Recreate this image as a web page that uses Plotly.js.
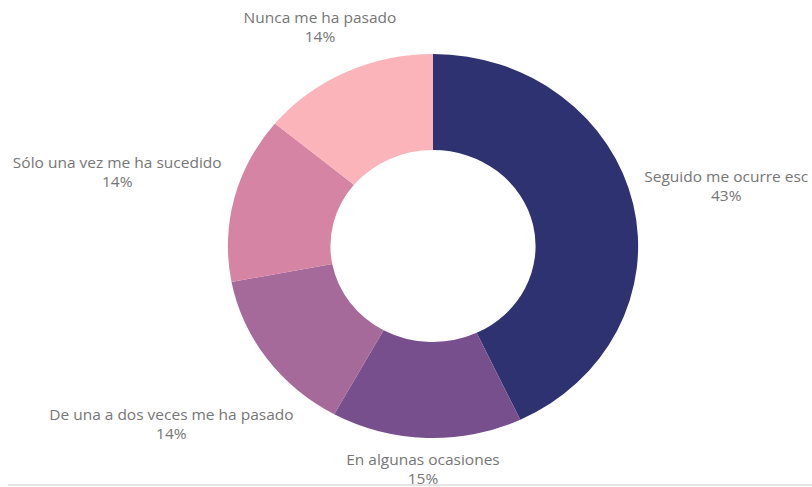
<!DOCTYPE html>
<html>
<head>
<meta charset="utf-8">
<script src="https://cdn.plot.ly/plotly-3.0.1.min.js"></script>
<style>
html,body{margin:0;padding:0;background:#fff;overflow:hidden;}
#wrap{width:812px;height:487px;overflow:hidden;position:relative;}
#chart{width:760px;height:487px;transform:scaleX(1.0684);transform-origin:0 0;}
</style>
</head>
<body>
<div id="wrap"><div id="chart"></div></div>
<script>
const categories = ["Seguido me ocurre esc", "En algunas ocasiones", "De una a dos veces me ha pasado", "Sólo una vez me ha sucedido", "Nunca me ha pasado"];
const values = [43, 15, 14, 14, 14];
const percentLabels = ["43%", "15%", "14%", "14%", "14%"];
const colors = ["#2e3270", "#774f8d", "#a5699a", "#d684a4", "#fbb4b9"];

// label placement in final screen px (center x, center y)
const labelPos = [[727, 186], [423, 469], [172, 424], [117, 172], [320, 27]];

const SX = 1.0684;
const W = 760, H = 487;
const annotations = categories.map((c, i) => ({
  xref: 'paper', yref: 'paper',
  x: (labelPos[i][0] / SX) / W, y: 1 - labelPos[i][1] / H,
  xanchor: 'center', yanchor: 'middle',
  text: c + '<br>' + percentLabels[i],
  showarrow: false, align: 'center',
  font: {family: 'Open Sans', size: 14.5, color: '#767676'}
}));

const cx = 433 / SX, cy = 246, r = 192;
const data = [{
  type: 'pie',
  labels: categories,
  values: values,
  hole: 0.5,
  sort: false,
  direction: 'clockwise',
  rotation: 0,
  marker: {colors: colors, line: {width: 0}},
  textinfo: 'none',
  hoverinfo: 'label+percent',
  showlegend: false,
  domain: {x: [(cx - r) / W, (cx + r) / W], y: [(H - cy - r) / H, (H - cy + r) / H]}
}];

const layout = {
  width: W, height: H,
  margin: {l: 0, r: 0, t: 0, b: 0},
  paper_bgcolor: '#ffffff',
  showlegend: false,
  annotations: annotations,
  shapes: [{type: 'line', xref: 'paper', yref: 'paper', x0: (8 / SX) / W, x1: 1, y0: 1 - 485 / H, y1: 1 - 485 / H, line: {color: '#cccccc', width: 1}}]
};

Plotly.newPlot('chart', data, layout, {displayModeBar: false, staticPlot: true});
</script>
</body>
</html>
